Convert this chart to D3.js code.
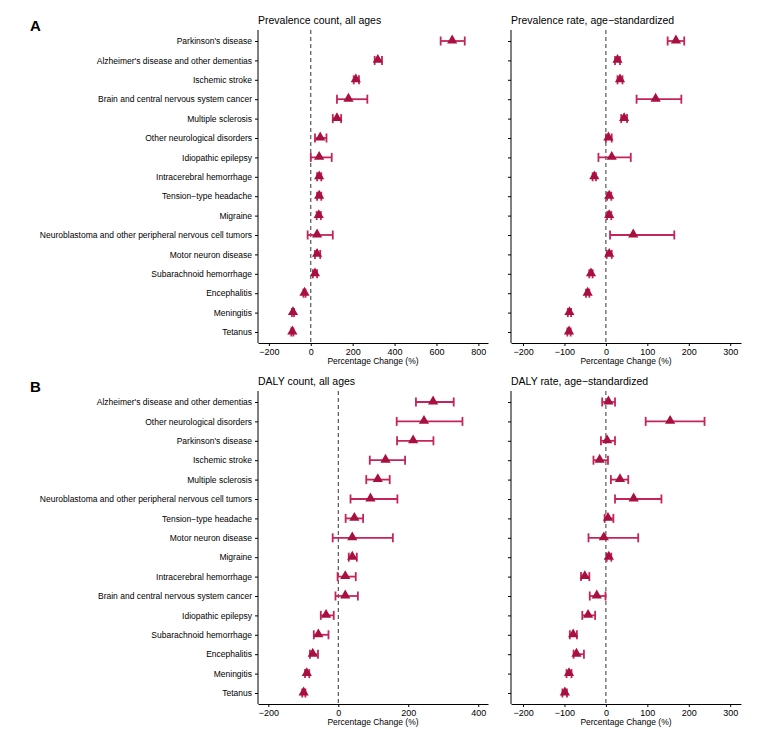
<!doctype html>
<html>
<head>
  <meta charset='utf-8'>
  <style>
    body { margin: 0; background: #fff; }
    text { font-family: 'Liberation Sans', Arial, sans-serif; fill: #000; }
  </style>
</head>
<body>
  <svg width='773' height='740'></svg>
  <script src='https://d3js.org/d3.v7.min.js'></script>
  <script>
    // panel A: prevalence (order top to bottom)
    var catsA = ["Parkinson's disease", "Alzheimer's disease and other dementias", "Ischemic stroke",
      "Brain and central nervous system cancer", "Multiple sclerosis", "Other neurological disorders",
      "Idiopathic epilepsy", "Intracerebral hemorrhage", "Tension\u2212type headache", "Migraine",
      "Neuroblastoma and other peripheral nervous cell tumors", "Motor neuron disease",
      "Subarachnoid hemorrhage", "Encephalitis", "Meningitis", "Tetanus"];
    var prevCount = [675, 320, 215, 180, 125, 45, 40, 40, 40, 38, 30, 30, 20, -30, -85, -88];
    var prevCountLo = [620, 305, 205, 125, 105, 20, 0, 30, 30, 28, -15, 20, 10, -35, -90, -93];
    var prevCountHi = [735, 340, 230, 270, 145, 75, 100, 50, 50, 48, 105, 45, 30, -25, -80, -83];
    var prevRate = [169, 28, 34, 120, 44, 6, 14, -28, 8, 8, 66, 8, -36, -44, -88, -89];
    var prevRateLo = [149, 22, 28, 74, 37, 0, -18, -32, 3, 3, 10, 2, -40, -48, -92, -93];
    var prevRateHi = [189, 34, 40, 182, 51, 14, 60, -24, 13, 13, 165, 14, -32, -40, -84, -85];

    // panel B: DALYs
    var catsB = ["Alzheimer's disease and other dementias", "Other neurological disorders", "Parkinson's disease",
      "Ischemic stroke", "Multiple sclerosis", "Neuroblastoma and other peripheral nervous cell tumors",
      "Tension\u2212type headache", "Motor neuron disease", "Migraine", "Intracerebral hemorrhage",
      "Brain and central nervous system cancer", "Idiopathic epilepsy", "Subarachnoid hemorrhage",
      "Encephalitis", "Meningitis", "Tetanus"];
    var dalyCount = [271, 245, 214, 135, 113, 92, 46, 40, 40, 20, 20, -35, -57, -73, -90, -99];
    var dalyCountLo = [222, 167, 168, 90, 80, 35, 21, -16, 30, -2, -8, -50, -70, -81, -95, -103];
    var dalyCountHi = [330, 355, 272, 191, 147, 169, 71, 156, 53, 50, 56, -13, -28, -58, -83, -94];
    var dalyRate = [6, 155, 3, -15, 34, 67, 5, -5, 7, -51, -22, -43, -79, -71, -89, -99];
    var dalyRateLo = [-9, 96, -12, -30, 12, 22, -3, -42, 2, -60, -39, -57, -87, -78, -95, -105];
    var dalyRateHi = [22, 238, 22, 5, 54, 134, 18, 78, 13, -40, -1, -26, -70, -53, -83, -94];

    var ticksPrevCount = [-200, 0, 200, 400, 600, 800];
    var ticksDalyCount = [-200, 0, 200, 400];
    var ticksRate = [-200, -100, 0, 100, 200, 300];

    var svg = d3.select('svg');
    var barColor = '#c4245a', markColor = '#a8103f';

    function panel(o) {
      var x = d3.scaleLinear().domain(o.domain).range([o.x0, o.x1]);
      var y = d3.scalePoint().domain(o.cats).range([o.yFirst, o.yLast]);
      var g = svg.append('g');

      g.append('text').attr('x', o.x0).attr('y', o.yTop - 6)
        .style('font-size', '10.5px').text(o.title);

      g.append('line').attr('x1', x(0)).attr('x2', x(0))
        .attr('y1', o.yTop).attr('y2', o.yBot)
        .attr('stroke', '#333').attr('stroke-dasharray', '4,3');

      var xa = g.append('g').attr('transform', 'translate(0,' + o.yBot + ')')
        .call(d3.axisBottom(x).tickValues(o.ticks).tickSize(3).tickSizeOuter(0)
          .tickFormat(function(d) { return d < 0 ? '\u2212' + Math.abs(d) : d; }));
      xa.select('.domain').attr('stroke', '#000');
      xa.selectAll('text').style('font-size', '9px').style('font-family', 'Liberation Sans, Arial, sans-serif');

      var ya = g.append('g').attr('transform', 'translate(' + o.x0 + ',0)')
        .call(d3.axisLeft(y).tickSize(3).tickSizeOuter(0).tickFormat(o.labels ? null : ''));
      ya.select('.domain').attr('d', 'M0,' + o.yTop + 'V' + o.yBot).attr('stroke', '#000');
      ya.selectAll('text').style('font-size', '8.5px').style('font-family', 'Liberation Sans, Arial, sans-serif');

      g.append('text').attr('x', (o.x0 + o.x1) / 2).attr('y', o.yBot + 21)
        .attr('text-anchor', 'middle').style('font-size', '8.5px').text('Percentage Change (%)');

      var rows = o.cats.map(function(c, i) {
        return { c: c, v: o.val[i], lo: o.lo[i], hi: o.hi[i] };
      });
      var r = g.selectAll('.row').data(rows).enter().append('g');
      r.append('line').attr('x1', function(d) { return x(d.lo); }).attr('x2', function(d) { return x(d.hi); })
        .attr('y1', function(d) { return y(d.c); }).attr('y2', function(d) { return y(d.c); })
        .attr('stroke', barColor).attr('stroke-width', 1.8);
      ['lo', 'hi'].forEach(function(k) {
        r.append('line').attr('x1', function(d) { return x(d[k]); }).attr('x2', function(d) { return x(d[k]); })
          .attr('y1', function(d) { return y(d.c) - 4.5; }).attr('y2', function(d) { return y(d.c) + 4.5; })
          .attr('stroke', barColor).attr('stroke-width', 1.8);
      });
      r.append('path').attr('d', d3.symbol(d3.symbolTriangle, 45))
        .attr('transform', function(d) { return 'translate(' + x(d.v) + ',' + (y(d.c) - 0.5) + ')'; })
        .attr('fill', markColor);
    }

    panel({ title: 'Prevalence count, all ages', cats: catsA, val: prevCount, lo: prevCountLo, hi: prevCountHi,
      domain: [-252, 846], x0: 258, x1: 488, yTop: 30, yBot: 343, yFirst: 41, yLast: 332, ticks: ticksPrevCount, labels: true });
    panel({ title: 'Prevalence rate, age\u2212standardized', cats: catsA, val: prevRate, lo: prevRateLo, hi: prevRateHi,
      domain: [-229, 326], x0: 511, x1: 741, yTop: 30, yBot: 343, yFirst: 41, yLast: 332, ticks: ticksRate, labels: false });
    panel({ title: 'DALY count, all ages', cats: catsB, val: dalyCount, lo: dalyCountLo, hi: dalyCountHi,
      domain: [-229.5, 428], x0: 258, x1: 488, yTop: 391, yBot: 704, yFirst: 402, yLast: 693, ticks: ticksDalyCount, labels: true });
    panel({ title: 'DALY rate, age\u2212standardized', cats: catsB, val: dalyRate, lo: dalyRateLo, hi: dalyRateHi,
      domain: [-229, 326], x0: 511, x1: 741, yTop: 391, yBot: 704, yFirst: 402, yLast: 693, ticks: ticksRate, labels: false });

    svg.append('text').attr('x', 30).attr('y', 31).style('font-size', '15px').style('font-weight', 'bold').text('A');
    svg.append('text').attr('x', 30).attr('y', 392).style('font-size', '15px').style('font-weight', 'bold').text('B');
  </script>
</body>
</html>
